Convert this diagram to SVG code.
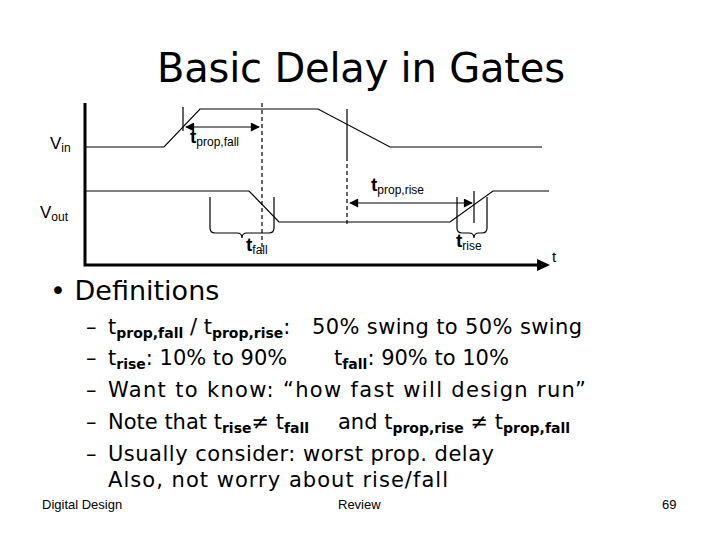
<svg xmlns="http://www.w3.org/2000/svg" width="720" height="540" viewBox="0 0 720 540">
<style>
.w{fill:none;stroke:#000;stroke-width:1.2}
.d{fill:none;stroke:#000;stroke-width:1.2;stroke-dasharray:4,3}
.a{fill:none;stroke:#000;stroke-width:3}
.l{font-family:"Liberation Sans",Arial,sans-serif;fill:#000}
.c{font-family:"DejaVu Sans",sans-serif;fill:#000}
.s{font-size:14px;font-weight:bold}
</style>
<defs>
<marker id="ah" viewBox="0 0 10 10" refX="9" refY="5" markerWidth="11" markerHeight="9" markerUnits="userSpaceOnUse" orient="auto-start-reverse"><path d="M0,0L10,5L0,10z" fill="#000"/></marker>
</defs>
<rect width="720" height="540" fill="#fff"/>
<text class="c" x="361" y="82" font-size="40" text-anchor="middle" textLength="408">Basic Delay in Gates</text>
<g id="axes">
<path class="a" d="M85,103V265H545"/>
<path d="M537,259L550,265L537,271z" fill="#000"/>
<text class="l" x="552" y="262" font-size="15">t</text>
</g>
<g id="vin">
<path class="w" d="M85,147H164L200,109H318L390,147H542"/>
<text class="l" x="50" y="149" font-size="17">V<tspan font-size="12" dy="3">in</tspan></text>
</g>
<g id="vout">
<path class="w" d="M85,191H249L279,222H450L493,191H549"/>
<text class="l" x="40" y="218" font-size="17">V<tspan font-size="12" dy="3">out</tspan></text>
</g>
<g id="connectors">
<path class="w" d="M183,107V131M347,109V157M474,191V223M210,197V228M274,197V228M457,197V228M487,197V228"/>
<path class="d" d="M262,103V251M347,157V226"/>
<path class="w" stroke-width="2.5" d="M186,127H259" marker-start="url(#ah)" marker-end="url(#ah)"/>
<path class="w" stroke-width="2.5" d="M350,203H472" marker-start="url(#ah)" marker-end="url(#ah)"/>
<path class="w" stroke-width="0.8" d="M210,228q0,5 5,5h22q5,0 5,5q0,-5 5,-5h22q5,0 5,-5"/>
<path class="w" stroke-width="0.8" d="M457,228q0,5 5,5h7q5,0 5,5q0,-5 5,-5h3q5,0 5,-5"/>
</g>
<g id="labels">
<text class="l" x="190" y="143" font-size="19" font-weight="bold">t<tspan font-size="12" font-weight="normal" dy="3">prop,fall</tspan></text>
<text class="l" x="371" y="191" font-size="19" font-weight="bold">t<tspan font-size="12" font-weight="normal" dy="3">prop,rise</tspan></text>
<text class="l" x="246" y="251" font-size="19" font-weight="bold">t<tspan font-size="12" font-weight="normal" dy="3">fall</tspan></text>
<text class="l" x="456" y="247" font-size="19" font-weight="bold">t<tspan font-size="12" font-weight="normal" dy="3">rise</tspan></text>
</g>
<g id="text">
<text class="c" x="50" y="300" font-size="27">• Definitions</text>
<g class="c" font-size="21">
<text x="86" y="334">–</text><text x="108" y="334">t<tspan class="s" dy="4">prop,fall</tspan><tspan dy="-4"> / t</tspan><tspan class="s" dy="4">prop,rise</tspan><tspan dy="-4">:</tspan></text><text x="312" y="334" textLength="270">50% swing to 50% swing</text>
<text x="86" y="365">–</text><text x="108" y="365">t<tspan class="s" dy="4">rise</tspan><tspan dy="-4">: 10% to 90%</tspan></text><text x="334" y="365">t<tspan class="s" dy="4">fall</tspan><tspan dy="-4">: 90% to 10%</tspan></text>
<text x="86" y="397">–</text><text x="108" y="397" textLength="478">Want to know: “how fast will design run”</text>
<text x="86" y="429">–</text><text x="108" y="429">Note that t<tspan class="s" dy="4">rise</tspan><tspan dy="-4">≠ t</tspan><tspan class="s" dy="4">fall</tspan></text><text x="338" y="429">and t<tspan class="s" dy="4">prop,rise</tspan><tspan dy="-4"> ≠ t</tspan><tspan class="s" dy="4">prop,fall</tspan></text>
<text x="86" y="461">–</text><text x="108" y="461" textLength="386">Usually consider: worst prop. delay</text>
<text x="108" y="487" textLength="340">Also, not worry about rise/fall</text>
</g>
<text class="l" x="42" y="509" font-size="13">Digital Design</text>
<text class="l" x="338" y="509" font-size="13">Review</text>
<text class="l" x="662" y="509" font-size="13">69</text>
</g>
</svg>
